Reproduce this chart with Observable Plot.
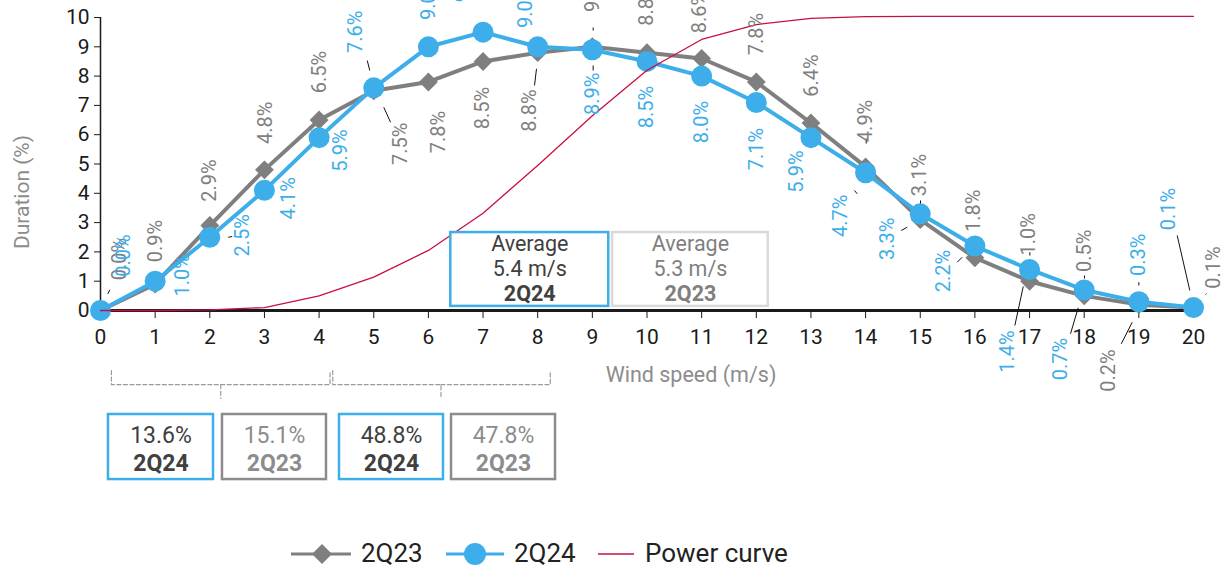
<!DOCTYPE html>
<html>
<head>
<meta charset="utf-8">
<script src="https://cdn.jsdelivr.net/npm/d3@7"></script>
<script src="https://cdn.jsdelivr.net/npm/@observablehq/plot@0.6"></script>
<style>
  body { margin: 0; background: #fff; font-family: Roboto, sans-serif; }
  #chart svg { display: block; }
  #legend { position: relative; width: 1221px; height: 35px; font-family: Roboto, sans-serif; font-size: 26px; color: #222; }
  #legend .it { position: absolute; top: 0; line-height: 35px; }
  #legend svg { position: absolute; }
</style>
</head>
<body>
<div id="chart"></div>
<div id="legend">
  <svg style="left:291px;top:6px" width="60" height="24"><line x1="0" y1="12" x2="60" y2="12" stroke="#7f7f7f" stroke-width="3"/><polygon points="31,2 41,12 31,22 21,12" fill="#7f7f7f"/></svg>
  <span class="it" style="left:361px">2Q23</span>
  <svg style="left:446px;top:6px" width="58" height="24"><line x1="0" y1="12" x2="58" y2="12" stroke="#3daee9" stroke-width="3"/><circle cx="29" cy="12" r="11" fill="#3daee9"/></svg>
  <span class="it" style="left:514px">2Q24</span>
  <svg style="left:598px;top:6px" width="36" height="24"><line x1="0" y1="12" x2="36" y2="12" stroke="#c8103e" stroke-width="1.5"/></svg>
  <span class="it" style="left:645px">Power curve</span>
</div>
<script>
// ---- data ----
const windSpeed = [0,1,2,3,4,5,6,7,8,9,10,11,12,13,14,15,16,17,18,19,20];
const dur2Q23 = [0.0,0.9,2.9,4.8,6.5,7.5,7.8,8.5,8.8,9.0,8.8,8.6,7.8,6.4,4.9,3.1,1.8,1.0,0.5,0.2,0.1];
const dur2Q24 = [0.0,1.0,2.5,4.1,5.9,7.6,9.0,9.5,9.0,8.9,8.5,8.0,7.1,5.9,4.7,3.3,2.2,1.4,0.7,0.3,0.1];
const powerCurve = [0,0,0.02,0.1,0.5,1.14,2.05,3.32,4.95,6.65,8.2,9.25,9.76,9.97,10.03,10.04,10.04,10.04,10.04,10.04,10.04];
const yTicks = [0,1,2,3,4,5,6,7,8,9,10];
const avgPeriods = ["2Q24","2Q23"];
const avgSpeeds = [5.4, 5.3];
const sharePeriods = ["2Q24","2Q23","2Q24","2Q23"];
const shareValues = [13.6, 15.1, 48.8, 47.8];

// ---- layout (pixel offsets of data labels relative to their point: [dx, dy]) ----
const off23 = [[19,-51.5],[0,-43],[0,-45],[1,-47],[0,-48],[27,53],[10,50],[0,46.5],[-8,58],[0,-56],[0,-48],[-2,-46.5],[0,-48],[1,-47.5],[0,-46],[-1,-44.7],[-1,-47],[-1,-47],[0,-45],[-30,66],[20,-40]];
const off24 = [[23,-55],[27,-6],[33,-2],[24,8],[21,13],[-18,-56],[0,-48],[-20,-51],[-12,-40],[0,44],[0,45.5],[0,46],[0,46.5],[-14,34],[-25,43],[-33,25],[-31,25],[-22,82],[-24,69],[0,-47],[-25,-98.6]];
// leader lines: [series, index, x1, y1, x2, y2] as pixel offsets from the point
const leaders = [
  ["a",0,7.3,-16.7,9.3,-20.7],["a",5,10,16.5,16.8,31.5],["b",5,-6.5,-27.3,-4,-17.3],
  ["a",8,-1.2,16.1,-3.2,32.8],["b",9,0.8,15.8,0.8,20.8],["a",9,0.8,-19.3,0.8,-16.3],
  ["a",14,0.6,-28.4,0.6,-23.4],["b",14,-11.1,17.7,-8.4,21],["b",15,-19,16.7,-13,13.4],
  ["b",16,-17.7,16.2,-12.7,11.2],["b",17,-14.7,56,-6.3,17],["b",18,-13.7,43.8,-6,17.8],
  ["a",19,-17.6,39.2,-6.6,17.6],["b",20,-16.3,-72.1,-3.7,-17.1],["b",19,0,-19.5,0,-16.2],
  ["a",15,0.25,-19.2,0.25,-16.2],["a",17,0.3,-29,0.3,-25.7],["a",18,0.3,-20.35,0.3,-17.35],
  ["b",2,18.4,0,22.4,-0.7],["a",20,12,-13,13,-14]
];

const W = 1221, H = 536, mL = 100, mR = 28, mT = 17, mB = 226;
const kx = (W - mL - mR) / 20, ky = (H - mT - mB) / 10;

const GRAY = "#7f7f7f", BLUE = "#3daee9", RED = "#c8103e", DARK = "#404040";

const rows23 = windSpeed.map((w, i) => ({x: w, y: dur2Q23[i]}));
const rows24 = windSpeed.map((w, i) => ({x: w, y: dur2Q24[i]}));
const rowsPC = windSpeed.map((w, i) => ({x: w, y: powerCurve[i]}));
const labels = (vals, offs) => vals.map((v, i) => ({
  x: windSpeed[i] + offs[i][0] / kx, y: v - offs[i][1] / ky, t: v.toFixed(1) + "%"
}));
const leaderRows = leaders.map(([s, i, a, b, c, d]) => {
  const v = (s === "a" ? dur2Q23 : dur2Q24)[i], w = windSpeed[i];
  return {x1: w + a / kx, y1: v - b / ky, x2: w + c / kx, y2: v - d / ky};
});

// annotation boxes (in data units of the chart)
const avgBoxes = [
  {x1: 6.41, x2: 9.30, stroke: BLUE, color: DARK},
  {x1: 9.37, x2: 12.22, stroke: "#d9d9d9", color: GRAY}
].map((b, i) => ({...b, y1: 0.14, y2: 2.66, cx: (b.x1 + b.x2) / 2, period: avgPeriods[i], v: avgSpeeds[i]}));
const shareBoxes = [
  {x1: 0.146, x2: 2.068}, {x1: 2.232, x2: 4.135}, {x1: 4.373, x2: 6.276}, {x1: 6.423, x2: 8.326}
].map((b, i) => {
  const is24 = sharePeriods[i] === "2Q24";
  return {...b, y1: -3.55, y2: -5.77, cx: (b.x1 + b.x2) / 2, stroke: is24 ? BLUE : "#8c8c8c",
    color: is24 ? DARK : "#8c8c8c", period: sharePeriods[i], v: shareValues[i]};
});
const brackets = [[0.2, 2.2, 4.2], [4.25, 6.23, 8.23]];
const bTop = -2.05, bMid = -2.53, bBot = -3.0;
const bracketRows = [];
brackets.forEach(([a, c, b], k) => {
  bracketRows.push({g: k + "l", x: a, y: bTop}, {g: k + "l", x: a, y: bMid}, {g: k + "l", x: c, y: bMid}, {g: k + "l", x: c, y: bBot});
  bracketRows.push({g: k + "r", x: c, y: bMid}, {g: k + "r", x: b, y: bMid}, {g: k + "r", x: b, y: bTop});
});

const chart = Plot.plot({
  width: W, height: H,
  marginLeft: mL, marginRight: mR, marginTop: mT, marginBottom: mB,
  style: {fontFamily: "Roboto, sans-serif", fontSize: "20px", background: "#fff", overflow: "visible"},
  x: {domain: [0, 20], label: null},
  y: {domain: [0, 10], label: null},
  marks: [
    Plot.axisY(yTicks, {tickSize: 6, tickPadding: 5, fontSize: 21, color: "#1a1a1a", label: null}),
    Plot.axisX(windSpeed, {tickSize: 8, tickPadding: 11, fontSize: 21, color: "#1a1a1a", label: null}),
    Plot.ruleX([0], {stroke: "#1a1a1a", strokeWidth: 1.5}),
    Plot.ruleY([0], {stroke: "#1a1a1a", strokeWidth: 3}),
    Plot.text(["Duration (%)"], {frameAnchor: "left", textAnchor: "middle", lineAnchor: "middle", dx: -78, dy: 28, rotate: -90, fill: "#8c8c8c", fontSize: 21}),
    Plot.text(["Wind speed (m/s)"], {frameAnchor: "bottom", textAnchor: "middle", lineAnchor: "middle", dx: 44, dy: 65, fill: "#8c8c8c", fontSize: 21.5}),
    Plot.line(rows23, {x: "x", y: "y", stroke: GRAY, strokeWidth: 4}),
    Plot.dot(rows23, {x: "x", y: "y", symbol: "diamond2", r: 8.5, fill: GRAY}),
    Plot.line(rows24, {x: "x", y: "y", stroke: BLUE, strokeWidth: 4}),
    Plot.dot(rows24, {x: "x", y: "y", r: 10.5, fill: BLUE}),
    Plot.line(rowsPC, {x: "x", y: "y", stroke: RED, strokeWidth: 1.3}),
    Plot.link(leaderRows, {x1: "x1", y1: "y1", x2: "x2", y2: "y2", stroke: "#111", strokeWidth: 1}),
    Plot.text(labels(dur2Q23, off23), {x: "x", y: "y", text: "t", rotate: -90, fill: GRAY, fontSize: 20}),
    Plot.text(labels(dur2Q24, off24), {x: "x", y: "y", text: "t", rotate: -90, fill: BLUE, fontSize: 20}),
    // average speed boxes
    Plot.rect(avgBoxes, {x1: "x1", x2: "x2", y1: "y1", y2: "y2", fill: "white", stroke: "stroke", strokeWidth: 2.5}),
    Plot.text(avgBoxes, {x: "cx", y: 2.25, text: () => "Average", fill: "color", fontSize: 21.5}),
    Plot.text(avgBoxes, {x: "cx", y: 1.40, text: d => d.v.toFixed(1) + " m/s", fill: "color", fontSize: 21.5}),
    Plot.text(avgBoxes, {x: "cx", y: 0.55, text: "period", fill: "color", fontSize: 21.5, fontWeight: "bold"}),
    // range brackets and share boxes
    Plot.line(bracketRows, {x: "x", y: "y", z: "g", stroke: "#9a9a9a", strokeWidth: 1.2, strokeDasharray: "4,2.5"}),
    Plot.rect(shareBoxes, {x1: "x1", x2: "x2", y1: "y1", y2: "y2", fill: "white", stroke: "stroke", strokeWidth: 2.5}),
    Plot.text(shareBoxes, {x: "cx", y: -4.27, text: d => d.v.toFixed(1) + "%", fill: "color", fontSize: 23}),
    Plot.text(shareBoxes, {x: "cx", y: -5.22, text: "period", fill: "color", fontSize: 23, fontWeight: "bold"})
  ]
});
document.getElementById("chart").append(chart);
</script>
</body>
</html>
